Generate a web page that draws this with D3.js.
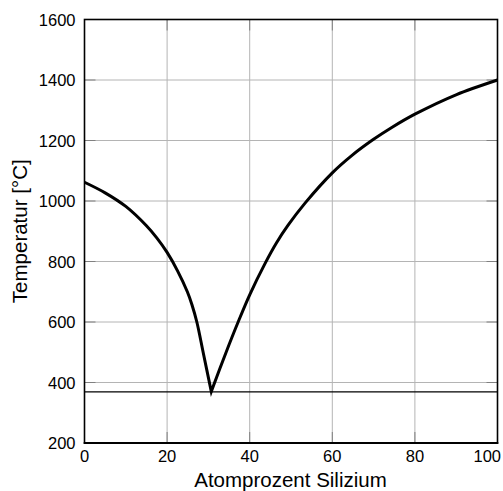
<!DOCTYPE html>
<html>
<head>
<meta charset="utf-8">
<script src="https://cdn.jsdelivr.net/npm/d3@7"></script>
<style>
  html, body { margin: 0; padding: 0; background: #fff; }
  svg { display: block; }
  text { font-family: "Liberation Sans", Arial, Helvetica, sans-serif; fill: #000; }
</style>
</head>
<body>
<svg id="chart" width="503" height="491"></svg>
<script>
// Liquidus, left branch (metal-rich side), ending at the eutectic point
const leftBranch = [
  [0, 1062], [5, 1027], [10, 982], [15, 918], [17.5, 878], [20, 830],
  [22.5, 770], [24.9, 700], [26, 658], [27.2, 600], [28.8, 495], [30.7, 370]
];
// Liquidus, right branch (silicon-rich side), starting at the eutectic point
const rightBranch = [
  [30.7, 370], [34.2, 497], [37.2, 600], [40, 690], [43.7, 793], [46.5, 862],
  [49.3, 920], [53.4, 993], [60, 1093], [64.7, 1150], [69.9, 1203],
  [74.4, 1243], [80, 1287], [90.1, 1352], [100, 1400]
];
// Eutectic temperature
const eutecticT = [369];

const xTicks = [0, 20, 40, 60, 80, 100];
const yTicks = [200, 400, 600, 800, 1000, 1200, 1400, 1600];

const xLabel = "Atomprozent Silizium";
const yLabel = "Temperatur [°C]";

const svg = d3.select("#chart");
const m = { left: 84.5, right: 497.5, top: 19.5, bottom: 443 };

const x = d3.scaleLinear().domain([0, 100]).range([m.left, m.right]);
const y = d3.scaleLinear().domain([200, 1600]).range([m.bottom, m.top]);

// Grid
const grid = svg.append("g");
grid.selectAll("line.gx").data(xTicks).join("line")
  .attr("x1", d => x(d)).attr("x2", d => x(d))
  .attr("y1", m.top).attr("y2", m.bottom)
  .attr("stroke", "#b4b4b4").attr("stroke-width", 1);
grid.selectAll("line.gy").data(yTicks).join("line")
  .attr("y1", d => y(d)).attr("y2", d => y(d))
  .attr("x1", m.left).attr("x2", m.right)
  .attr("stroke", "#b4b4b4").attr("stroke-width", 1);

// Inward tick marks on all four sides
const tl = 11;
const ticks = svg.append("g").attr("stroke", "#808080").attr("stroke-width", 1);
xTicks.forEach(d => {
  ticks.append("line").attr("x1", x(d)).attr("x2", x(d)).attr("y1", m.bottom).attr("y2", m.bottom - tl);
  ticks.append("line").attr("x1", x(d)).attr("x2", x(d)).attr("y1", m.top).attr("y2", m.top + tl);
});
yTicks.forEach(d => {
  ticks.append("line").attr("y1", y(d)).attr("y2", y(d)).attr("x1", m.left).attr("x2", m.left + tl);
  ticks.append("line").attr("y1", y(d)).attr("y2", y(d)).attr("x1", m.right).attr("x2", m.right - tl);
});

// Eutectic horizontal
svg.selectAll("line.eut").data(eutecticT).join("line")
  .attr("x1", m.left).attr("x2", m.right)
  .attr("y1", d => y(d)).attr("y2", d => y(d))
  .attr("stroke", "#000").attr("stroke-width", 1.2);

// Liquidus curves, both branches meeting in a sharp cusp
const line = d3.line().x(d => x(d[0])).y(d => y(d[1])).curve(d3.curveCatmullRom.alpha(0.5));
const path = line(leftBranch) + line(rightBranch).replace(/^M/, "L");
svg.append("path")
  .attr("d", path)
  .attr("fill", "none").attr("stroke", "#000")
  .attr("stroke-width", 3).attr("stroke-linejoin", "miter").attr("stroke-miterlimit", 10);

// Frame
svg.append("rect")
  .attr("x", m.left).attr("y", m.top)
  .attr("width", m.right - m.left).attr("height", m.bottom - m.top)
  .attr("fill", "none").attr("stroke", "#000").attr("stroke-width", 1.6);
svg.append("line")
  .attr("x1", m.left - 0.8).attr("x2", m.right + 0.8)
  .attr("y1", m.bottom).attr("y2", m.bottom)
  .attr("stroke", "#000").attr("stroke-width", 2.2);

// Tick labels (the last one is right-aligned so it stays inside the page)
svg.selectAll("text.xt").data(xTicks).join("text")
  .attr("x", (d, i) => i === xTicks.length - 1 ? 501 : x(d)).attr("y", 461.5)
  .attr("text-anchor", (d, i) => i === xTicks.length - 1 ? "end" : "middle")
  .attr("font-size", 16.5)
  .text(d => d);
svg.selectAll("text.yt").data(yTicks).join("text")
  .attr("x", 75.5).attr("y", d => y(d) + 6)
  .attr("text-anchor", "end").attr("font-size", 16.5)
  .text(d => d);

// Axis titles
svg.append("text")
  .attr("x", (m.left + m.right) / 2 - 0.5).attr("y", 486.5)
  .attr("text-anchor", "middle").attr("font-size", 20.5)
  .text(xLabel);
svg.append("text")
  .attr("transform", `translate(27,${(m.top + m.bottom) / 2}) rotate(-90)`)
  .attr("text-anchor", "middle").attr("font-size", 20.5)
  .text(yLabel);
</script>
</body>
</html>
